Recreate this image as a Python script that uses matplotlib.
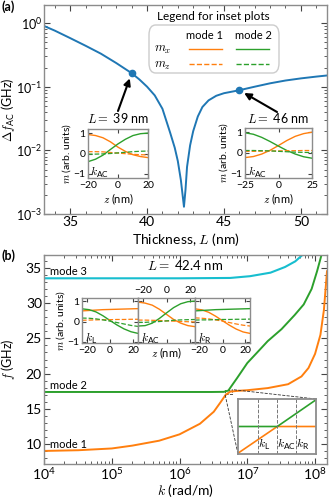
import matplotlib
matplotlib.use('Agg')
import matplotlib.pyplot as plt
from matplotlib.lines import Line2D
from matplotlib.patches import FancyBboxPatch
from matplotlib.ticker import MultipleLocator, LogLocator, NullFormatter
from mpl_toolkits.axes_grid1.inset_locator import mark_inset

plt.rcParams['font.family'] = ['Lato', 'DejaVu Sans']
plt.rcParams['mathtext.fontset'] = 'cm'
plt.rcParams['axes.edgecolor'] = '#8c8c8c'
plt.rcParams['axes.linewidth'] = 1.0

BLUE, ORANGE, GREEN, CYAN = '#1f77b4', '#ff7f0e', '#2ca02c', '#17becf'

# ---- (a) anticrossing gap vs thickness ----
thick_L = [33.3, 34.0, 35.0, 36.0, 37.0, 38.0, 39.0, 39.5, 40.0, 40.5, 41.0, 41.5,
           41.8, 42.0, 42.2, 42.3, 42.4, 42.5, 42.6, 42.8, 43.0, 43.3, 43.6, 44.0,
           44.5, 45.0, 46.0, 47.0, 48.0, 49.0, 50.0, 51.0, 51.7]
df_ac = [0.90, 0.76, 0.58, 0.44, 0.33, 0.235, 0.163, 0.13, 0.10, 0.073, 0.045, 0.019,
         0.011, 0.0068, 0.0034, 0.0021, 0.0013, 0.0024, 0.0055, 0.012, 0.020, 0.034, 0.048, 0.061,
         0.072, 0.079, 0.088, 0.100, 0.113, 0.125, 0.135, 0.144, 0.150]
mark_L = [39, 46]
mark_df = [0.163, 0.088]

# inset profiles, L = 39 nm
z39 = [-20, -15, -10, -5, 0, 5, 10, 15, 20]
mx1_39 = [0.93, 0.88, 0.77, 0.57, 0.31, 0.10, -0.06, -0.15, -0.20]
mx2_39 = [-0.40, -0.28, -0.08, 0.20, 0.47, 0.70, 0.88, 0.97, 1.00]
mz1_39 = [0.09, 0.09, 0.08, 0.05, 0.02, -0.01, -0.04, -0.06, -0.07]
mz2_39 = [-0.03, -0.03, -0.02, 0.00, 0.03, 0.06, 0.09, 0.11, 0.12]
# inset profiles, L = 46 nm
z46 = [-25, -18.75, -12.5, -6.25, 0, 6.25, 12.5, 18.75, 25]
mx1_46 = [-0.22, -0.17, -0.05, 0.13, 0.36, 0.60, 0.80, 0.93, 1.00]
mx2_46 = [0.97, 0.90, 0.75, 0.55, 0.33, 0.12, -0.05, -0.18, -0.25]
mz1_46 = [0.08, 0.08, 0.09, 0.10, 0.10, 0.11, 0.11, 0.12, 0.12]
mz2_46 = [0.12, 0.12, 0.11, 0.10, 0.08, 0.06, 0.04, 0.03, 0.02]

# ---- (b) dispersion at L = 42.4 nm ----
k1 = [1e4, 3.2e4, 1e5, 2e5, 5e5, 1e6, 2e6, 3.2e6, 4e6, 4.8e6, 5.6e6, 7e6, 1e7,
      2e7, 4e7, 6.3e7, 8e7, 1e8, 1.2e8, 1.35e8, 1.5e8]
f1 = [9.05, 9.15, 9.4, 9.8, 10.5, 11.4, 12.9, 14.6, 15.9, 17.0, 17.45, 17.55, 17.65,
      17.95, 18.5, 19.6, 20.8, 22.8, 25.5, 29.0, 34.5]
k2 = [1e4, 1e5, 1e6, 3e6, 4.5e6, 5.25e6, 6e6, 7.1e6, 1e7, 1.4e7, 2e7, 3.2e7, 5e7,
      6.8e7, 8.9e7, 1.07e8, 1.26e8]
f2 = [17.4, 17.4, 17.4, 17.4, 17.42, 17.6, 18.4, 19.4, 21.5, 23.0, 24.6, 26.3, 28.3,
      29.8, 32.0, 34.5, 37.0]
k3 = [1e4, 1e6, 5.6e6, 1.1e7, 2.2e7, 3.6e7, 5.1e7, 6.5e7, 7.1e7]
f3 = [33.5, 33.5, 33.55, 33.8, 34.3, 35.1, 35.9, 36.8, 37.5]

# zoomed crossing
zoom_k = [4.7e6, 5.27e6, 5.9e6]
zoom_f1 = [17.06, 17.40, 17.40]
zoom_f2 = [17.40, 17.40, 17.74]
k_marks = [4.98e6, 5.27e6, 5.56e6]
k_names = [r'$k_{\mathdefault{L}}$', r'$k_{\mathdefault{AC}}$', r'$k_{\mathdefault{R}}$']

# profiles at kL, kAC, kR
zb = [-24, -18, -12, -6, 0, 6, 12, 18, 24]
prof_mx1 = [[0.52, 0.54, 0.56, 0.58, 0.59, 0.60, 0.61, 0.62, 0.63],
            [0.95, 0.90, 0.80, 0.60, 0.35, 0.10, -0.08, -0.20, -0.25],
            [0.62, 0.57, 0.45, 0.26, 0.04, -0.18, -0.37, -0.51, -0.58]]
prof_mx2 = [[0.62, 0.58, 0.47, 0.28, 0.05, -0.17, -0.36, -0.50, -0.58],
            [-0.22, -0.20, -0.08, 0.15, 0.42, 0.68, 0.87, 0.97, 1.00],
            [0.52, 0.54, 0.56, 0.58, 0.59, 0.60, 0.61, 0.62, 0.63]]
prof_mz1 = [[0.06, 0.07, 0.08, 0.09, 0.09, 0.10, 0.10, 0.11, 0.11],
            [0.07, 0.07, 0.06, 0.05, 0.03, 0.02, 0.00, -0.01, -0.02],
            [0.18, 0.16, 0.13, 0.08, 0.02, -0.05, -0.12, -0.18, -0.22]]
prof_mz2 = [[0.17, 0.16, 0.13, 0.08, 0.02, -0.05, -0.12, -0.19, -0.24],
            [-0.04, -0.04, -0.02, 0.00, 0.03, 0.06, 0.08, 0.09, 0.10],
            [0.07, 0.08, 0.08, 0.09, 0.10, 0.10, 0.11, 0.11, 0.12]]

W, H = 332, 500
fig = plt.figure(figsize=(W / 100, H / 100), dpi=100)


def box(x0, y0, x1, y1):
    return [x0 / W, 1 - y1 / H, (x1 - x0) / W, (y1 - y0) / H]


def fpt(x, y):
    return (x / W, 1 - y / H)


def style(ax, size=10, maj=4, mnr=2, pad=2):
    ax.tick_params(which='both', direction='in', top=True, right=True,
                   color='#444444', labelsize=size, pad=pad)
    ax.tick_params(which='major', length=maj)
    ax.tick_params(which='minor', length=mnr)


def profile(ax, z, a, b, c, d):
    ax.plot(z, a, color=ORANGE, lw=1.0)
    ax.plot(z, b, color=GREEN, lw=1.0)
    ax.plot(z, c, color=ORANGE, lw=0.9, ls='--')
    ax.plot(z, d, color=GREEN, lw=0.9, ls='--')


# ================= panel (a) =================
axa = fig.add_axes(box(44, 5, 327, 214))
axa.plot(thick_L, df_ac, color=BLUE, lw=1.4)
axa.plot(mark_L, mark_df, 'o', color=BLUE, ms=4.5)
axa.set_yscale('log')
axa.set_xlim(33.3, 51.7)
axa.set_ylim(1e-3, 1.92)
axa.xaxis.set_major_locator(MultipleLocator(5))
axa.xaxis.set_minor_locator(MultipleLocator(1))
axa.yaxis.set_minor_locator(LogLocator(subs=range(2, 10)))
axa.yaxis.set_minor_formatter(NullFormatter())
style(axa, pad=1.5)
axa.tick_params(axis='y', labelsize=9, pad=1)
axa.set_xlabel('Thickness, $L$ (nm)', fontsize=10)
axa.set_ylabel(r'$\Delta f_{\mathdefault{AC}}$ (GHz)', fontsize=9)
axa.xaxis.set_label_coords(0.5, -0.08)
axa.yaxis.set_label_coords(-0.097, 0.5)

axa.annotate('', xy=(39, 0.163), xytext=fpt(118, 111), textcoords='figure fraction',
             arrowprops=dict(arrowstyle='-|>', color='k', lw=1.5, shrinkA=0, shrinkB=4,
                             mutation_scale=10))
axa.annotate('', xy=(46, 0.088), xytext=fpt(277, 112), textcoords='figure fraction',
             arrowprops=dict(arrowstyle='-|>', color='k', lw=1.5, shrinkA=0, shrinkB=4,
                             mutation_scale=10))
fig.text(*fpt(118, 118), r'$L =$ 39 nm', fontsize=9, ha='center', va='center')
fig.text(*fpt(278, 118), r'$L =$ 46 nm', fontsize=9, ha='center', va='center')

for rect, z, prof, lim in [((88, 129, 148, 178), z39, (mx1_39, mx2_39, mz1_39, mz2_39), 20),
                           ((245, 128, 312, 178), z46, (mx1_46, mx2_46, mz1_46, mz2_46), 25)]:
    ai = fig.add_axes(box(*rect))
    profile(ai, z, *prof)
    ai.set_xlim(-lim, lim)
    ai.set_ylim(-1.2, 1.2)
    ai.set_xticks([-lim, 0, lim])
    ai.set_yticks([-1, 0, 1])
    style(ai, size=7.5, maj=3)
    ai.set_xlabel('$z$ (nm)', fontsize=8, labelpad=1)
    ai.set_ylabel('$m$ (arb. units)', fontsize=7.5, labelpad=0)
    ai.text(0.04, 0.04, r'$k_{\mathdefault{AC}}$', transform=ai.transAxes, fontsize=8.5)

# legend for insets
fig.text(*fpt(213, 17), 'Legend for inset plots', fontsize=8.5, ha='center', va='center')
fig.add_artist(FancyBboxPatch(fpt(149, 73), 130 / W, 48 / H, transform=fig.transFigure,
                              boxstyle='round,pad=0,rounding_size=0.02',
                              fc='white', ec='#cccccc', lw=1.0))
fig.text(*fpt(205, 35), 'mode 1', fontsize=8, ha='center', va='center')
fig.text(*fpt(253, 35), 'mode 2', fontsize=8, ha='center', va='center')
fig.text(*fpt(163, 50), '$m_x$', fontsize=9, ha='center', va='center')
fig.text(*fpt(163, 66), '$m_z$', fontsize=9, ha='center', va='center')
for y, ls in [(49, '-'), (64, '--')]:
    for x0, c in [(189, ORANGE), (236, GREEN)]:
        fig.add_artist(Line2D([x0 / W, (x0 + 33) / W], [1 - y / H, 1 - y / H],
                              transform=fig.transFigure, color=c, lw=1.0, ls=ls))

# ================= panel (b) =================
axb = fig.add_axes(box(44, 255, 327, 464))
axb.plot(k1, f1, color=ORANGE, lw=1.4)
axb.plot(k2, f2, color=GREEN, lw=1.4)
axb.plot(k3, f3, color=CYAN, lw=1.5)
axb.set_xscale('log')
axb.set_xlim(1e4, 1.5e8)
axb.set_ylim(7.2, 36.8)
axb.yaxis.set_major_locator(MultipleLocator(5))
axb.yaxis.set_minor_locator(MultipleLocator(1))
axb.xaxis.set_minor_locator(LogLocator(subs=range(2, 10)))
axb.xaxis.set_minor_formatter(NullFormatter())
style(axb, pad=1.5)
axb.set_xlabel('$k$ (rad/m)', fontsize=10)
axb.set_ylabel('$f$ (GHz)', fontsize=9)
axb.xaxis.set_label_coords(0.5, -0.088)
axb.yaxis.set_label_coords(-0.097, 0.5)
axb.text(1.22e4, 33.7, 'mode 3', fontsize=8, va='bottom')
axb.text(1.22e4, 17.6, 'mode 2', fontsize=8, va='bottom')
axb.text(1.22e4, 9.25, 'mode 1', fontsize=8, va='bottom')
fig.text(*fpt(185, 265), r'$L =$ 42.4 nm', fontsize=9.5, ha='center', va='center')

# zoom of the crossing
axz = fig.add_axes(box(238, 399, 316, 454))
axz.set_xscale('log')
axz.plot(zoom_k, zoom_f1, color=ORANGE, lw=1.2)
axz.plot(zoom_k, zoom_f2, color=GREEN, lw=1.2)
for kk, name in zip(k_marks, k_names):
    axz.axvline(kk, color='#777777', lw=0.7, ls='--')
    axz.text(kk, 17.08, name, fontsize=8.5, ha='left', va='bottom')
axz.set_xlim(zoom_k[0], zoom_k[-1])
axz.set_ylim(17.05, 17.75)
axz.set_xticks([])
axz.set_xticks([], minor=True)
axz.set_yticks([])
for s in axz.spines.values():
    s.set_linewidth(1.3)
mark_inset(axb, axz, loc1=1, loc2=3, fc='none', ec='#333333', lw=0.6, ls='--')

# profiles at kL, kAC, kR
rects = [(82, 298, 138, 343), (138, 298, 195, 343), (195, 298, 250, 343)]
labels = [r'$k_{\mathdefault{L}}$', r'$k_{\mathdefault{AC}}$', r'$k_{\mathdefault{R}}$']
for i, rect in enumerate(rects):
    ai = fig.add_axes(box(*rect))
    profile(ai, zb, prof_mx1[i], prof_mx2[i], prof_mz1[i], prof_mz2[i])
    ai.set_xlim(-24, 24)
    ai.set_ylim(-1.05, 1.15)
    ai.set_xticks([-20, 0, 20])
    ai.set_yticks([-1, 0, 1])
    style(ai, size=7.5, maj=3)
    ai.text(0.05, 0.03, labels[i], transform=ai.transAxes, fontsize=8.5)
    if i == 0:
        ai.set_ylabel('$m$ (arb. units)', fontsize=7.5, labelpad=0)
    else:
        ai.tick_params(labelleft=False)
    if i == 1:
        ai.tick_params(labeltop=True, labelbottom=False)
        ai.set_xlabel('$z$ (nm)', fontsize=8, labelpad=2)

fig.text(*fpt(2, 7), '(a)', fontsize=9, fontweight='bold', va='center')
fig.text(*fpt(2, 256), '(b)', fontsize=9, fontweight='bold', va='center')

fig.savefig('out.png', dpi=100)
